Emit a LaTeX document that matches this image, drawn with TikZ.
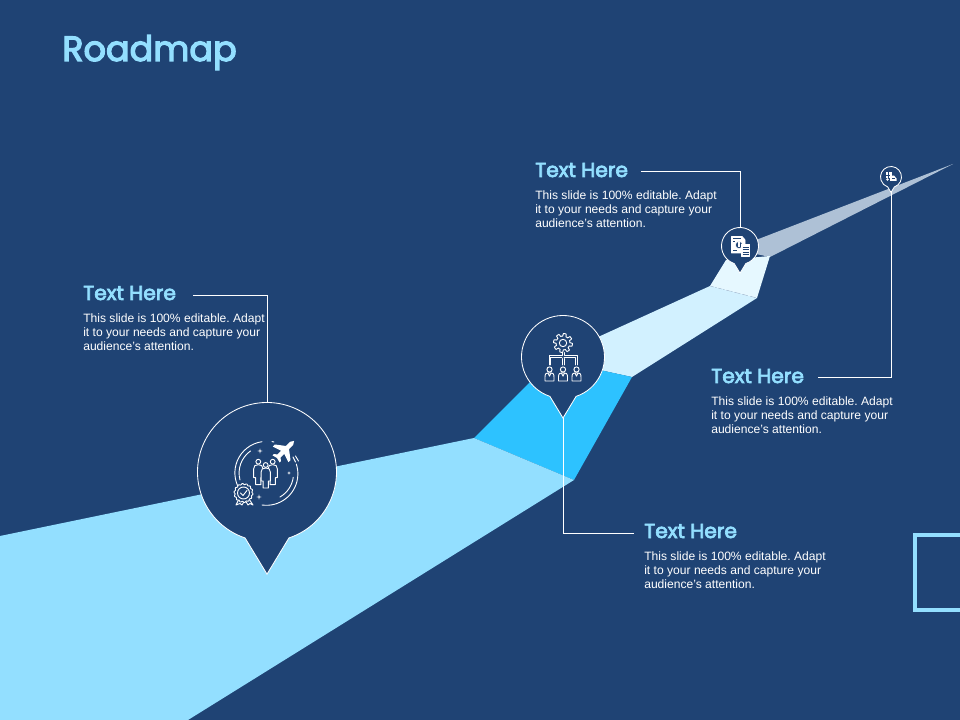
\documentclass[tikz,border=0pt]{standalone}
\usepackage{fontspec}
\setmainfont{Liberation Sans}
\newfontfamily\headfont{Poppins}[FakeBold=3.5]
\usepackage{xcolor}
\usetikzlibrary{positioning,calc}
\definecolor{slidebg}{HTML}{1F4374}
\definecolor{skyblue}{HTML}{93DFFF}
\definecolor{brightblue}{HTML}{2DC2FF}
\definecolor{paleblue}{HTML}{D2F1FF}
\definecolor{iceblue}{HTML}{E6F8FF}
\definecolor{fadeblue}{HTML}{AEC1D6}
\tikzset{
 titletxt/.style={anchor=base west,inner sep=0pt,text=skyblue,font=\headfont\fontsize{24.9}{30}\selectfont},
 headtxt/.style={anchor=base west,inner sep=0pt,text=skyblue,font=\headfont\fontsize{14.4}{16}\selectfont},
 bodytxt/.style={inner sep=0pt,align=left,text=white,font=\fontsize{8.6}{10}\selectfont\frenchspacing},
 leader/.style={draw=white,line width=0.7pt},
 pinline/.style={draw=white,line width=0.6pt,fill=slidebg},
 pinhead/.style={circle,draw=none,inner sep=0pt},
 icon/.style={draw=white,line width=0.65pt,line cap=round,line join=round},
 sparkle/.pic={\fill[white] (-2.6,0) -- (-0.5,-0.5) -- (0,-2.6) -- (0.5,-0.5) -- (2.6,0) -- (0.5,0.5) -- (0,2.6) -- (-0.5,0.5) -- cycle;},
 staff/.pic={
   \draw[icon,fill=slidebg] (0,-6.5) circle (2.6);
   \draw[icon,fill=slidebg] (-4.5,5) -- (-4.5,1) .. controls (-4.5,-2.8) and (-3,-3.2) .. (0,-3.2) .. controls (3,-3.2) and (4.5,-2.8) .. (4.5,1) -- (4.5,5) -- cycle;
   \draw[icon] (-1.6,-3) -- (0,0.2) -- (1.6,-3);},
 crewman/.pic={
   \draw[icon,fill=slidebg] (0,-11) circle (2.4);
   \draw[icon,fill=slidebg] (-2.6,12) -- (-2.6,5) -- (-4.6,5) -- (-4.6,-4) .. controls (-4.6,-7) and (-3,-8) .. (0,-8) .. controls (3,-8) and (4.6,-7) .. (4.6,-4) -- (4.6,5) -- (2.6,5) -- (2.6,12) -- cycle;}
}
\newcommand{\roadpin}[4]{
  \draw[pinline] (#2,#3) ++(71.6:#4) arc[start angle=71.6,end angle=-251.6,radius=#4]
    -- (#2,#3+1.47*#4) coordinate (#1tip) -- cycle;
  \node[pinhead,minimum size=#4*0.05cm] (#1) at (#2,#3) {};
}
\begin{document}
\begin{tikzpicture}[x=0.025cm,y=-0.025cm]
  \useasboundingbox (0,0) rectangle (960,720);
  \fill[slidebg] (0,0) rectangle (960,720);
  % road
  \fill[fadeblue] (756,240) -- (953,164) -- (770,257) -- (756,254) -- cycle;
  \fill[paleblue] (563,353) -- (710,286) -- (757,298) -- (632,377) -- (563,362) -- cycle;
  \fill[iceblue] (710,286) -- (726,260) -- (770,256) -- (757,298) -- cycle;
  \draw[dashed,draw=fadeblue,line width=0.3pt] (710,286) -- (757,298);
  \fill[brightblue] (474,438) -- (530,382) -- (563,362) -- (632,377) -- (574,480) -- cycle;
  \fill[skyblue] (0,536) -- (474,438) -- (574,480) -- (188,720) -- (0,720) -- cycle;
  % corner frame
  \draw[skyblue,line width=2.9pt] (960,535) -| (915,610) -- (960,610);
  % pins
  \roadpin{pinA}{267}{472}{69.5}
  \roadpin{pinB}{563}{357}{41.5}
  \roadpin{pinC}{740}{246}{18.5}
  \roadpin{pinD}{891}{177}{10.5}
  % texts
  \node[titletxt] (title) at (62,61) {Roadmap};
  \node[headtxt] (headA) at (83,300) {Text Here};
  \node[bodytxt,below=9.2pt of headA.south west,anchor=north west] (bodyA) {This slide is 100\% editable. Adapt\\it to your needs and capture your\\audience's attention.};
  \node[headtxt] (headB) at (535,177) {Text Here};
  \node[bodytxt,below=9.2pt of headB.south west,anchor=north west] (bodyB) {This slide is 100\% editable. Adapt\\it to your needs and capture your\\audience's attention.};
  \node[headtxt] (headC) at (711,383) {Text Here};
  \node[bodytxt,below=9.2pt of headC.south west,anchor=north west] (bodyC) {This slide is 100\% editable. Adapt\\it to your needs and capture your\\audience's attention.};
  \node[headtxt] (headD) at (644,538) {Text Here};
  \node[bodytxt,below=9.2pt of headD.south west,anchor=north west] (bodyD) {This slide is 100\% editable. Adapt\\it to your needs and capture your\\audience's attention.};
  % leaders
  \draw[leader,shorten <=12pt] ([yshift=-1.4pt]headA.east) -| (pinA.north);
  \draw[leader,shorten <=9pt] ([yshift=-1.2pt]headB.east) -| (pinC.north);
  \draw[leader,shorten <=10pt] ([yshift=-1.2pt]headC.east) -| (pinDtip);
  \draw[leader,shorten <=7pt] ([yshift=-1.4pt]headD.west) -| (pinBtip);
  % icon of pin A
  \draw[icon] (262,441.7) arc[start angle=-98,end angle=-210,radius=31.5];
  \draw[icon] (240,480) arc[start angle=165,end angle=235,radius=27];
  \draw[icon] (262,505) arc[start angle=98,end angle=-18,radius=31.5];
  \draw[icon] (280,497) arc[start angle=60,end angle=8,radius=27];
  \draw[icon] (272,441.6) -- (274,442);
  \pic at (258.3,472.7) {crewman};
  \pic at (272.7,472.7) {crewman};
  \pic at (265.7,476) {crewman};
  \fill[white,shift={(284.5,450.5)},rotate=-45,scale=0.85] (0,-16) -- (2.5,-12) -- (2.5,-5) -- (13,3) -- (13,6.5) -- (2.5,3) -- (2.5,9) -- (6,12) -- (6,14) -- (0,12.5) -- (-6,14) -- (-6,12) -- (-2.5,9) -- (-2.5,3) -- (-13,6.5) -- (-13,3) -- (-2.5,-5) -- (-2.5,-12) -- cycle;
  \draw[icon] (293,457) -- (295.5,462) (295.5,456) -- (298.5,461);
  \pic at (260,451) {sparkle};
  \pic at (259,497) {sparkle};
  \pic[scale=0.7] at (289,473) {sparkle};
  \draw[icon,fill=slidebg] (239,499) -- (236,505) -- (240,503.5) -- (242,505) -- (245,500) -- (248,505) -- (250,503.5) -- (253,505) -- (249,499) -- cycle;
  \draw[icon,fill=slidebg,domain=0:360,samples=73] plot ({243.5+(9+0.6*sin(14*\x))*cos(\x)},{493+(9+0.6*sin(14*\x))*sin(\x)}) -- cycle;
  \draw[icon] (243.5,493) circle (6);
  \draw[icon] (240.5,493) -- (243,495.5) -- (247,490.5);
  % icon of pin B
  \draw[icon,domain=0:360,samples=145] plot ({563+(8.2+1.3*max(min(3*sin(8*\x),1),-1))*cos(\x)},{343+(8.2+1.3*max(min(3*sin(8*\x),1),-1))*sin(\x)}) -- cycle;
  \draw[icon] (563,343) circle (3.7);
  \draw[icon] (562,352.5) -- (562,355.5) -- (549,355.5) -- (549,365) (550.5,365) -- (550.5,357) -- (562,357) (564,352.5) -- (564,355.5) -- (577,355.5) -- (577,365) (575.5,365) -- (575.5,357) -- (564,357);
  \draw[icon] (562,358.5) -- (562,365) (564,358.5) -- (564,365);
  \pic at (549.5,376) {staff};
  \pic at (563,376) {staff};
  \pic at (576.5,376) {staff};
  % icon of pin C
  \draw[icon,fill=white] (731.5,236.5) -- (742,236.5) -- (745,240) -- (745,253) -- (731.5,253) -- cycle;
  \draw[icon,fill=slidebg,line width=0.4pt] (739,245) circle (3.6);
  \fill[white] (738.3,242.5) rectangle (739.7,247.5);
  \draw[slidebg,line width=0.4pt] (733,238.5) -- (741,238.5) (733,250) -- (737,250) (733,241) -- (735,241);
  \draw[icon,fill=white] (741.5,244.5) rectangle (749.5,256);
  \draw[slidebg,line width=0.45pt] (742.5,247) -- (748.5,247) (742.5,249.5) -- (748.5,249.5) (742.5,252) -- (748.5,252) (742.5,254.3) -- (748.5,254.3);
  % icon of pin D
  \fill[white] (886,172.5) rectangle (891.5,178.5);
  \fill[white] (890,176) -- (894,175.5) -- (896.5,178.5) -- (896.5,181) -- (890,181) -- cycle;
  \fill[white] (887.5,179.5) circle (1.3);
  \draw[slidebg,line width=0.3pt] (886,175) -- (890,175) (888,172.5) -- (888,178) (892,178) -- (895,178);
\end{tikzpicture}
\end{document}
